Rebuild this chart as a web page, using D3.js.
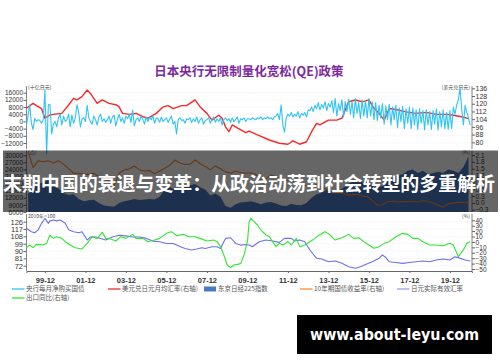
<!DOCTYPE html>
<html>
<head>
<meta charset="utf-8">
<script src="https://cdn.jsdelivr.net/npm/d3@7"></script>
<style>
  body { margin: 0; background: #fff; }
  svg { display: block; font-family: "Liberation Sans", "Noto Sans CJK SC", sans-serif; }
</style>
</head>
<body>
<svg></svg>
<script>
const w = 500;
const h = 362;
const svg = d3.select('svg').attr('width', w).attr('height', h);
const parse = d3.timeParse('%Y-%m');

const title = '日本央行无限制量化宽松(QE)政策';
const banner = '末期中国的衰退与变革：从政治动荡到社会转型的多重解析';
const watermark = 'www.about-leyu.com';

const xTicks = ['1999-12', '2001-12', '2003-12', '2005-12', '2007-12', '2009-12',
  '2011-12', '2013-12', '2015-12', '2017-12', '2019-12'];

// 央行每月净购买国债 (monthly, from 1999-01)
const buyStart = '1999-01';
const buy = [
  -2000, 3500, 9300, -800, -4500, 1800, 0, 1000, 500, -1000, 1000, 17500,
  -18000, 9300, 9500, -7000, -1500, 0, -3000, 2000, 4000, -2000, 3000, 0,
  1000, 4000, -3000, 3500, -1000, 2000, 9300, 5000, -3000, 1500, 2000, 0,
  9000, 2000, 0, -1500, 3000, 1000, -2000, 2500, 4000, 0, 1500, -500,
  1000, 3000, -1000, 2500, 3500, -2500, 1000, 4000, 0, 2000, -1000, 3000,
  1500, 4000, -500, 6400, -2500, 1000, 2000, 0, 3000, 1000, -1500, 2500,
  0, 2500, 1000, 3000, -1000, 2000, 1500, -500, 2500, 0, 1000, 2000,
  -500, 1500, 3000, -1500, 0, -7000, 1000, 2000, 500, 1000, -1000, 1500,
  1000, 2000, -500, 1500, 0, 2500, -1000, 1000, 2000, -1500, 500, 1000,
  2000, -1000, 1000, 2500, -500, 1500, 0, 2000, -2000, 1000, 2000, 500,
  1500, -500, 2000, 0, 1000, 2500, -1000, 1500, 1000, 2000, 0, 1500,
  1500, 1000, 2000, 1500, 1000, 2000, 1500, 2500, 1000, 2000, 1500, 2500,
  1500, 2000, 1000, 2500, 3000, 4400, 1000, 9300, -2000, -6000, 2000, 4000,
  3000, 5000, 2500, 4000, 3000, 5500, 2000, 4500, 3500, 5000, 2500, 6500,
  6000, 8000, 5500, 9000, 7000, 10500, 6500, 9500, 7500, 11000, 6000, 10000,
  8000, 11500, 5000, 12700, 3000, 10000, 6000, 12000, 2500, 11000, 5500, 12500,
  4000, 11000, 2000, 12700, 4500, 10500, 1500, 12000, 3000, 11500, 2000, 12700,
  3000, 11000, 1000, 10500, 500, 9000, 2000, 10000, -1500, 8500, 1000, 9500,
  -2000, 8000, 1000, 9000, -3500, 7500, 0, 8500, -4000, 7000, -1000, 8000,
  -4000, 7500, -2000, 6500, -4500, 7000, -1000, 6000, -4800, 6500, -2000, 5500,
  -4500, 6000, -1500, 7000, -4800, 5500, -3000, 6500, -4000, 5000, -4500, 6000,
  -4000, 8000, 4000, 9000, 12000, 18500, 7000, -2000, 9000, 5000, 2000, -2000
];

// 美元兑日元月均汇率
const usdjpyDates = ['1999-01', '1999-05', '1999-07', '1999-10', '1999-12', '2000-03', '2000-05',
  '2000-10', '2001-02', '2001-05', '2001-07', '2001-10', '2002-01', '2002-03', '2002-07', '2002-10',
  '2003-02', '2003-06', '2003-08', '2003-10', '2004-02', '2004-06', '2004-10', '2005-01', '2005-06',
  '2005-10', '2006-01', '2006-04', '2006-09', '2006-12', '2007-05', '2007-08', '2007-12', '2008-03',
  '2008-07', '2008-09', '2008-11', '2009-01', '2009-03', '2009-06', '2009-11', '2010-01', '2010-06',
  '2011-01', '2011-07', '2011-12', '2012-03', '2012-07', '2012-11', '2013-02', '2013-05', '2013-07',
  '2013-12', '2014-05', '2014-08', '2014-12', '2015-04', '2015-08', '2015-12', '2016-03', '2016-06',
  '2016-09', '2016-12', '2017-04', '2017-10', '2018-04', '2018-10', '2019-04', '2019-10', '2020-01',
  '2020-07', '2020-11'];
const usdjpy = [115.3, 120.4, 118, 115, 105, 108.3, 109, 110, 118.7, 125.6, 124, 127.3, 134.2, 130.7,
  120.4, 124, 120.4, 119, 116.7, 110, 109, 110, 106.5, 105, 110, 116.7, 118, 115, 118, 118, 124, 116.7,
  110, 103, 108, 105, 96, 91, 98, 95, 90, 91.7, 87.6, 82.4, 79, 78, 81.4, 78, 80.6, 91, 99.7, 98, 103,
  103, 105, 122, 123.9, 122, 124, 115.2, 110, 103, 115, 114, 111.5, 110, 111, 109, 109, 108.3, 106.5,
  104.6];

// 东京日经225指数 (quarterly, from 1999-02)
const nikkeiStart = '1999-02';
const nikkei = [
  13800, 16500, 17800, 18500, 19500, 17000, 16000, 14000, 13200, 13500, 11500, 10500,
  11000, 11200, 9800, 8700, 8400, 8200, 9800, 10500, 11000, 11500, 11100, 11300,
  11500, 11300, 12500, 15500, 16500, 15500, 16000, 16800, 17300, 17800, 16500, 15500,
  13000, 13800, 12500, 8500, 7800, 9300, 10000, 10200, 10500, 10000, 9300, 10000,
  10200, 9600, 8700, 8500, 9500, 9000, 8900, 9800, 12000, 13500, 14200, 15500,
  14800, 15000, 15700, 17500, 18800, 20200, 18500, 19500, 17000, 16500, 17000, 19200,
  20500, 21500, 22000, 23500, 24000, 22500, 23500, 22000, 22500, 23000, 22500, 24000,
  23500, 22500, 25000, 29500
];

// 10年期国债收益率 (quarterly, from 1999-02)
const jgbStart = '1999-02';
const jgb10y = [
  2.25, 1.55, 1.85, 1.80, 1.85, 1.75, 1.85, 1.70, 1.50, 1.30, 1.30, 1.25,
  1.25, 1.30, 1.15, 1.05, 0.95, 0.75, 1.30, 1.44, 1.50, 1.62, 1.45, 1.40,
  1.42, 1.28, 1.40, 1.52, 1.65, 1.88, 1.75, 1.68, 1.70, 1.88, 1.72, 1.60,
  1.45, 1.62, 1.50, 1.37, 1.30, 1.40, 1.33, 1.30, 1.32, 1.25, 1.00, 1.05,
  1.22, 1.15, 1.00, 1.00, 0.98, 0.85, 0.78, 0.75, 0.70, 0.80, 0.68, 0.60,
  0.45, 0.45, 0.42, 0.35, 0.35, 0.38, 0.30, 0.28, 0.10, -0.10, -0.08, 0.05,
  0.07, 0.05, 0.06, 0.05, 0.07, 0.04, 0.10, 0.06, 0.00, -0.10, -0.18, -0.05,
  0.00, 0.02, 0.03, 0.02
];

// 日元实际有效汇率 (2010年=100)
const reerDates = ['1999-01', '1999-04', '1999-06', '1999-08', '1999-10', '1999-12', '2000-02',
  '2000-03', '2000-05', '2000-07', '2000-09', '2000-12', '2001-02', '2001-05', '2001-08', '2001-10',
  '2002-01', '2002-03', '2002-06', '2002-09', '2002-12', '2003-04', '2003-08', '2003-12', '2004-04',
  '2004-08', '2004-12', '2005-04', '2005-08', '2005-12', '2006-04', '2006-07', '2006-11', '2007-03',
  '2007-06', '2007-09', '2007-11', '2008-03', '2008-06', '2008-08', '2008-11', '2009-02', '2009-05',
  '2009-08', '2009-11', '2010-01', '2010-03', '2010-07', '2010-11', '2011-03', '2011-07', '2011-10',
  '2012-02', '2012-04', '2012-07', '2012-10', '2013-01', '2013-05', '2013-08', '2013-12', '2014-04',
  '2014-08', '2014-12', '2015-04', '2015-07', '2015-10', '2016-02', '2016-06', '2016-08', '2016-10',
  '2016-12', '2017-04', '2017-08', '2017-12', '2018-04', '2018-08', '2018-12', '2019-04', '2019-08',
  '2019-12', '2020-03', '2020-05', '2020-09', '2020-12'];
const reer = [117.9, 113.7, 112.5, 115.9, 124, 130, 124, 127, 128, 127, 128, 124, 116, 113.7, 112.5,
  113.7, 103.5, 107.3, 107.3, 105.5, 103.5, 107.3, 109.4, 108.6, 107.3, 107.3, 105.5, 102.2, 101.4,
  99.3, 99.3, 96.5, 93.2, 91.2, 92.4, 94, 93.2, 95.3, 95.3, 93.2, 105.5, 106.3, 99.3, 97.3, 98, 97.4,
  95.3, 101.4, 103.5, 102.3, 100.6, 105.5, 105.5, 102.3, 103.5, 101.4, 91.3, 81.1, 80.3, 76.9, 77.7,
  74.9, 70.8, 68.8, 70.8, 73.6, 76.9, 81.1, 85.2, 82, 76.9, 76, 74.9, 76, 76.9, 77.7, 76.9, 79, 80.3,
  79, 83, 81.9, 79, 77.7];

// 出口同比 (%)
const exportDates = ['1999-01', '1999-03', '1999-05', '1999-07', '1999-11', '2000-01', '2000-03',
  '2000-05', '2000-07', '2000-10', '2000-12', '2001-03', '2001-06', '2001-10', '2002-01', '2002-04',
  '2002-07', '2002-10', '2002-12', '2003-03', '2003-06', '2003-09', '2003-12', '2004-04', '2004-06',
  '2004-10', '2005-01', '2005-05', '2005-08', '2005-12', '2006-03', '2006-06', '2006-10', '2007-01',
  '2007-05', '2007-08', '2007-12', '2008-04', '2008-06', '2008-08', '2008-10', '2008-12', '2009-02',
  '2009-04', '2009-06', '2009-08', '2009-10', '2009-12', '2010-01', '2010-02', '2010-04', '2010-06',
  '2010-08', '2010-11', '2011-01', '2011-03', '2011-05', '2011-07', '2011-09', '2011-12', '2012-02',
  '2012-05', '2012-07', '2012-10', '2013-01', '2013-04', '2013-06', '2013-10', '2014-01', '2014-04',
  '2014-08', '2014-12', '2015-03', '2015-06', '2015-09', '2015-12', '2016-03', '2016-06', '2016-09',
  '2016-12', '2017-04', '2017-08', '2017-11', '2018-02', '2018-05', '2018-08', '2018-12', '2019-04',
  '2019-08', '2019-12', '2020-02', '2020-05', '2020-08', '2020-10', '2020-12'];
const exportYoy = [-10.6, -5.7, -10.6, -4.5, -5.7, -2.6, 12.8, 6.6, 9.7, 6.6, 0.5, -5.7, -10.6, -13,
  -2.6, 9.7, 6.6, 17.7, 6.6, 5.4, 1.8, 9.7, 6.6, 14, 6.6, 6.6, 0.5, 3.5, 6.6, 15.9, 19, 11.6, 14, 9.7,
  9.7, 6.6, 1.8, 3.5, 0.5, -8.7, -24, -42.6, -47.5, -42.6, -41.4, -40, -24, 0.5, 37, 43.7, 37.5, 31.3,
  22, 12.8, 9.7, 0.5, -8.7, -2.6, -5.7, 0.5, -5.7, 6.6, -8.7, -5.7, 0.5, 6.6, 11.6, 19, 12.8, 3.5,
  7.8, 14, 6.6, 7.8, 0.5, -5.7, -11.8, -8.7, -2.6, 0.5, 9.7, 15.9, 14, 6.6, 6.6, 0.5, -5.7, -5.7,
  -6.9, -2.6, -5.7, -27.3, -14.8, -2.6, 0.5];

const topLeftTicks = [-12000, -8000, -4000, 0, 4000, 8000, 12000, 16000];
const topRightTicks = [80, 88, 96, 104, 112, 120, 128, 136];
const midLeftTicks = [6000, 9000, 12000, 15000, 18000, 21000, 24000, 27000, 30000];
const midRightTicks = [-0.3, 0.0, 0.3, 0.6, 0.9, 1.2, 1.5, 1.8, 2.1];
const botLeftTicks = [72, 81, 90, 99, 108, 117, 126];
const botRightTicks = [-50, -40, -30, -20, -10, 0, 10, 20, 30, 40];

const legendNames = ['央行每月净购买国债', '美元兑日元月均汇率(右轴)', '东京日经225指数',
  '10年期国债收益率(右轴)', '日元实际有效汇率', '出口同比(右轴)'];

const colors = {
  buy: '#2fc4f5', usd: '#f42a2a', nikkei: '#4a78c2', jgb: '#ff8a33', reer: '#6e6ef2', exp: '#2ee62e'
};

const xLeft = 26.5;
const xRight = 472;
const x = d3.scaleTime().domain([parse('1999-01'), parse('2021-01')]).range([26.4, 471.9]);

const monthly = (start, arr, step) =>
  arr.map((v, i) => ({ date: d3.timeMonth.offset(parse(start), i * step), v }));
const paired = (dates, arr) => arr.map((v, i) => ({ date: parse(dates[i]), v }));

// panel scales
const topP = {
  y0: 86, y1: 149,
  yL: d3.scaleLinear().domain([-12000, 16000]).range([143, 92.7]),
  yR: d3.scaleLinear().domain([80, 136]).range([142.3, 88.3])
};
const midP = {
  y0: 150.5, y1: 212,
  yL: d3.scaleLinear().domain([6000, 30000]).range([212, 155.3]),
  yR: d3.scaleLinear().domain([-0.3, 2.1]).range([209.7, 155])
};
const botP = {
  y0: 214, y1: 271,
  yL: d3.scaleLinear().domain([72, 126]).range([265.7, 221.7]),
  yR: d3.scaleLinear().domain([-50, 40]).range([269, 220.3])
};

// title
svg.append('text')
  .attr('x', 249).attr('y', 76)
  .attr('text-anchor', 'middle')
  .attr('font-family', '"Noto Sans CJK SC", sans-serif')
  .attr('font-weight', 'bold')
  .attr('font-size', 12.5)
  .attr('fill', '#7a2a9e')
  .text(title);

function grid(p, ticks) {
  svg.append('g').selectAll('line').data(ticks).enter().append('line')
    .attr('x1', xLeft).attr('x2', xRight)
    .attr('y1', (d) => p.yL(d)).attr('y2', (d) => p.yL(d))
    .attr('stroke', '#d8d8d8').attr('stroke-width', 0.6)
    .attr('stroke-dasharray', '1,2');
}

function axes(p, lt, rt, fl, fr, fsL, fsR) {
  const gl = svg.append('g').attr('transform', `translate(${xLeft},0)`)
    .call(d3.axisLeft(p.yL).tickValues(lt).tickSize(3).tickFormat(fl));
  gl.select('.domain').remove();
  gl.selectAll('text').attr('font-size', fsL).attr('fill', '#333').attr('x', -3.5);
  gl.selectAll('line').attr('stroke', '#666');
  const gr = svg.append('g').attr('transform', `translate(${xRight},0)`)
    .call(d3.axisRight(p.yR).tickValues(rt).tickSize(3).tickFormat(fr));
  gr.select('.domain').remove();
  gr.selectAll('text').attr('font-size', fsR).attr('fill', '#333').attr('x', 3.5);
  gr.selectAll('line').attr('stroke', '#666');
  [xLeft, xRight].forEach((xx) => {
    svg.append('line').attr('x1', xx).attr('x2', xx)
      .attr('y1', p.y0).attr('y2', p.y1)
      .attr('stroke', '#666').attr('stroke-width', 0.8);
  });
}

function unitLabel(xx, yy, txt, anchor) {
  svg.append('text').attr('x', xx).attr('y', yy)
    .attr('text-anchor', anchor || 'start')
    .attr('font-family', '"Noto Sans CJK SC", sans-serif')
    .attr('font-size', 5).attr('fill', '#444').text(txt);
}

function drawLine(data, yScale, color, width) {
  svg.append('path').datum(data)
    .attr('fill', 'none').attr('stroke', color).attr('stroke-width', width)
    .attr('stroke-linejoin', 'round')
    .attr('d', d3.line().x((d) => x(d.date)).y((d) => yScale(d.v)));
}

// ---- top panel
grid(topP, topLeftTicks);
axes(topP, topLeftTicks, topRightTicks, d3.format('d'), d3.format('d'), 6.5, 7);
unitLabel(28, 89, '(十亿日元)');
unitLabel(470, 89, '(美元兑日元)', 'end');
drawLine(paired(usdjpyDates, usdjpy), topP.yR, colors.usd, 1.4);
drawLine(monthly(buyStart, buy, 1), topP.yL, colors.buy, 1.1);

// ---- middle panel
const nk = monthly(nikkeiStart, nikkei, 3);
svg.append('path').datum(nk)
  .attr('fill', colors.nikkei)
  .attr('d', d3.area().x((d) => x(d.date)).y0(midP.yL(6000)).y1((d) => midP.yL(d.v)));
axes(midP, midLeftTicks, midRightTicks, d3.format('d'), d3.format('.1f'), 6.5, 6.5);
unitLabel(28, 154, '(点)');
unitLabel(470, 154, '(%)', 'end');
drawLine(monthly(jgbStart, jgb10y, 3), midP.yR, colors.jgb, 1.1);

// ---- bottom panel
grid(botP, botLeftTicks);
axes(botP, botLeftTicks, botRightTicks, d3.format('d'), d3.format('d'), 7.5, 6.5);
unitLabel(28, 218, '2010年=100');
unitLabel(470, 218, '(%)', 'end');
drawLine(paired(reerDates, reer), botP.yL, colors.reer, 1.1);
drawLine(paired(exportDates, exportYoy), botP.yR, colors.exp, 1.1);

const gx = svg.append('g').attr('transform', `translate(0,${botP.y1})`)
  .call(d3.axisBottom(x).tickValues(xTicks.map(parse)).tickSize(2).tickFormat(d3.timeFormat('%y-%m')));
gx.select('.domain').attr('stroke', '#666');
gx.selectAll('line').attr('stroke', '#666');
gx.selectAll('text').attr('font-size', 7.5).attr('font-weight', 'bold').attr('fill', '#333').attr('dy', '0.9em');

// ---- legend
const legendPos = [[12, 289], [108, 289], [204, 289], [300, 289], [397, 289], [12, 298]];
const legendColor = [colors.buy, colors.usd, colors.nikkei, colors.jgb, '#9c9cf5', colors.exp];
const lg = svg.append('g').selectAll('g').data(legendNames).enter().append('g')
  .attr('transform', (d, i) => `translate(${legendPos[i][0]},${legendPos[i][1]})`);
lg.each(function (d, i) {
  const g = d3.select(this);
  if (i === 2) {
    g.append('rect').attr('x', 0).attr('y', -2.5).attr('width', 12).attr('height', 5)
      .attr('fill', legendColor[i]);
  } else {
    g.append('line').attr('x1', 0).attr('x2', 12.5).attr('y1', 0).attr('y2', 0)
      .attr('stroke', legendColor[i]).attr('stroke-width', 1.3);
  }
  g.append('text').attr('x', 14).attr('y', 0).attr('dy', '0.35em')
    .attr('font-family', '"Noto Sans CJK SC", sans-serif')
    .attr('font-size', 6.5).attr('fill', '#555').text(d);
});

// ---- banner overlay
svg.append('rect').attr('x', 3).attr('y', 150.5).attr('width', 495).attr('height', 61.5)
  .attr('fill', '#000').attr('opacity', 0.6);
svg.append('text')
  .attr('x', 3).attr('y', 184).attr('dy', '0.36em')
  .attr('font-family', '"Noto Sans CJK SC", sans-serif')
  .attr('font-weight', 'bold').attr('font-size', 19)
  .attr('fill', '#fff')
  .attr('textLength', 492).attr('lengthAdjust', 'spacingAndGlyphs')
  .text(banner);

// ---- watermark
svg.append('rect').attr('x', 297).attr('y', 315).attr('width', 195).attr('height', 39).attr('fill', '#000');
svg.append('text')
  .attr('x', 394.5).attr('y', 340)
  .attr('text-anchor', 'middle')
  .attr('font-family', '"DejaVu Sans", sans-serif')
  .attr('font-weight', 'bold').attr('font-size', 16)
  .attr('fill', '#fff')
  .attr('textLength', 169).attr('lengthAdjust', 'spacingAndGlyphs')
  .text(watermark);
</script>
</body>
</html>
